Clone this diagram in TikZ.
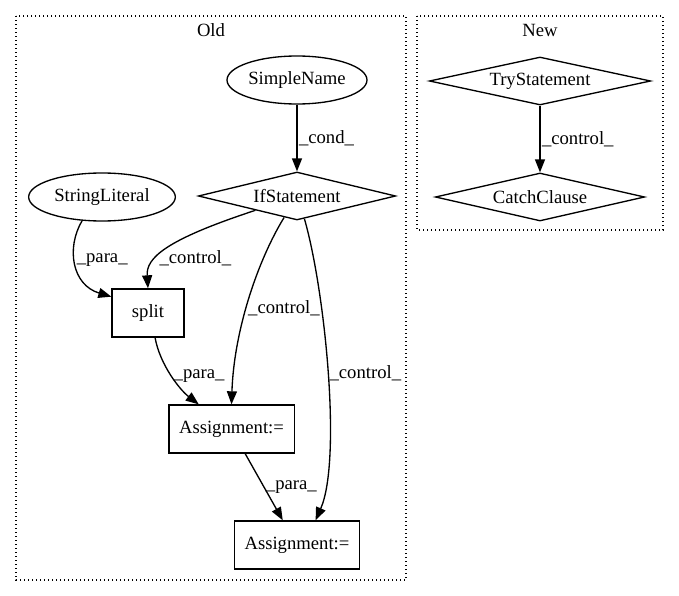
\documentclass[tikz,border=0pt]{standalone}
\usepackage{fontspec}
\setmainfont{Liberation Serif}
\usetikzlibrary{arrows.meta}
\usetikzlibrary{positioning}
\usetikzlibrary{shapes}

\begin{document}
\begin{tikzpicture}[x=0.75pt,y=-0.75pt,node distance=87pt,
    every node/.style={font=\fontsize{14pt}{16pt}\selectfont},
    ell/.style={draw,ellipse,line width=1pt,inner sep=0pt,minimum width=105pt,minimum height=36pt},
    dia/.style={draw,diamond,aspect=4,line width=1pt,inner sep=1pt,minimum height=36pt},
    box/.style={draw,rectangle,line width=1pt,minimum height=36pt,minimum width=54pt},
    edge/.style={line width=1pt,-{Triangle[length=9.75pt,width=7.5pt]}},
    lab/.style={inner sep=1pt},
    cluster/.style={line width=1pt,dash pattern=on 1pt off 2pt}]
      \useasboundingbox (0,0) rectangle (679,596);
      % clusters
      \draw[cluster] (16,16) rectangle (406,580);
      \draw[cluster] (417,16) rectangle (663,230);
      \node (oldTitle) at (211,30) {Old};
      \node (newTitle) at (540,30) {New};
      % Old
      \node[ell] (simpleName) at (297,80) {SimpleName};
      \node[dia,minimum width=148pt,below of=simpleName] (ifStatement) {IfStatement};
      \node[ell,minimum width=110pt] (stringLiteral) at (102,197) {StringLiteral};
      \node[box] (split) at (148,313) {split};
      \node[box,minimum width=94pt] (assignA) at (231.5,429) {Assignment:=};
      \node[box,minimum width=94pt] (assignB) at (297,545) {Assignment:=};
      % New
      \node[dia,minimum width=166pt] (tryStatement) at (540,81) {TryStatement};
      \node[dia,minimum width=157pt,below of=tryStatement] (catchClause) {CatchClause};
      \draw[edge] (simpleName) -- node[lab,right] {\_cond\_} (ifStatement);
      \draw[edge] (stringLiteral.230) .. controls (66,248) and (72,285) .. node[lab,right,pos=0.45] {\_para\_} (split.156);
      \draw[edge] (ifStatement.199) .. controls (165,240) and (146,258) .. node[lab,right,pos=0.62] {\_control\_} (split.north);
      \draw[edge] (ifStatement.239) .. controls (258,260) and (234,330) .. node[lab,right,pos=0.55] {\_control\_} (assignA.north);
      \draw[edge] (ifStatement.288) .. controls (325,290) and (342,460) .. node[lab,right,pos=0.5] {\_control\_} (assignB.53);
      \draw[edge] (split.286) .. controls (160,365) and (180,390) .. node[lab,right,pos=0.5] {\_para\_} (assignA.143);
      \draw[edge] (assignA.299) -- node[lab,right] {\_para\_} (assignB.120);
      \draw[edge] (tryStatement) -- node[lab,right] {\_control\_} (catchClause);
    \end{tikzpicture}
\end{document}
